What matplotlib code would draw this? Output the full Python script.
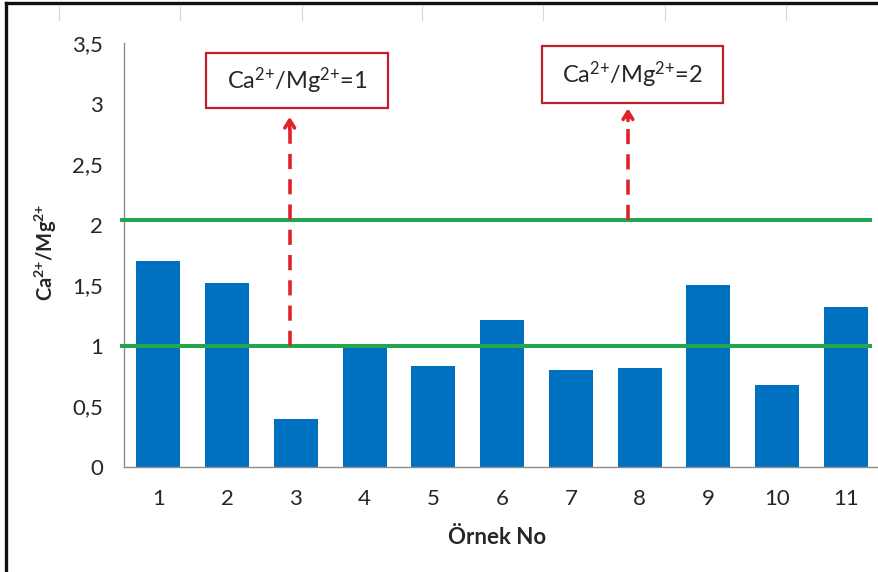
import matplotlib
matplotlib.use("Agg")
import matplotlib.pyplot as plt
from matplotlib.patches import Rectangle
from matplotlib.lines import Line2D

plt.rcParams['font.family'] = ['Lato', 'DejaVu Sans']
plt.rcParams['mathtext.fontset'] = 'custom'
plt.rcParams['mathtext.rm'] = 'Lato'
plt.rcParams['mathtext.it'] = 'Lato:italic'
plt.rcParams['mathtext.bf'] = 'Lato:bold'

# ---- data ----
samples = ["1", "2", "3", "4", "5", "6", "7", "8", "9", "10", "11"]
ratios = [1.70, 1.52, 0.40, 1.00, 0.83, 1.21, 0.80, 0.82, 1.50, 0.68, 1.32]
ref_levels = [1.0, 2.04]
ytick_vals = [0, 0.5, 1, 1.5, 2, 2.5, 3, 3.5]
ytick_labels = ["0", "0,5", "1", "1,5", "2", "2,5", "3", "3,5"]
box_labels = [r"Ca$^{2{+}}$/Mg$^{2{+}}$=1", r"Ca$^{2{+}}$/Mg$^{2{+}}$=2"]

W, H = 879, 572
fig = plt.figure(figsize=(W / 100, H / 100), dpi=100)
ax = fig.add_axes([124 / W, 1 - 467 / H, 756.3 / W, 424 / H])

text_col = '#262626'
blue = '#0070C0'
green = '#23A64E'
red = '#E0232B'
box_red = '#C0202A'

x = list(range(1, len(samples) + 1))
ax.bar(x, ratios, width=0.64, color=blue, zorder=2)

ax.set_xlim(0.5, len(samples) + 0.5)
ax.set_ylim(0, 3.5)
ax.set_yticks(ytick_vals)
ax.set_yticklabels(ytick_labels)
ax.set_xticks(x)
ax.set_xticklabels(samples)
ax.tick_params(axis='both', length=0, labelsize=16, colors=text_col)
ax.tick_params(axis='y', pad=15)
ax.tick_params(axis='x', pad=16)

for s in ['top', 'right']:
    ax.spines[s].set_visible(False)
for s in ['left', 'bottom']:
    ax.spines[s].set_color('#8c8c8c')
    ax.spines[s].set_linewidth(1.0)

# reference lines
for lv in ref_levels:
    ax.plot([0.44, 11.38], [lv, lv], color=green, lw=2.9, clip_on=False, zorder=3,
            solid_capstyle='butt')

# dashed arrows
arrow_specs = [(2.91, ref_levels[0], 2.89), (7.83, ref_levels[1], 2.96)]
for ax_x, y0, ytip in arrow_specs:
    ax.plot([ax_x, ax_x], [y0, ytip - 0.02], color=red, lw=2.6, dashes=(4.2, 2.8),
            zorder=4, clip_on=False)
    ax.annotate('', xy=(ax_x, ytip), xytext=(ax_x, ytip - 0.1),
                arrowprops=dict(arrowstyle='->,head_length=0.55,head_width=0.35',
                                lw=2.6, color=red, shrinkA=0, shrinkB=0),
                annotation_clip=False, zorder=5)

# label boxes
boxes = [((1.693, 2.963), 4.34 - 1.693, 3.418 - 2.963, (3.02, 3.19)),
         ((6.58, 3.005), 9.21 - 6.58, 3.475 - 3.005, (7.89, 3.24))]
for (xy, bw, bh, tc), lab in zip(boxes, box_labels):
    ax.add_patch(Rectangle(xy, bw, bh, facecolor='white', edgecolor=box_red,
                           lw=1.6, clip_on=False, zorder=6))
    ax.text(tc[0], tc[1], lab, ha='center', va='center', fontsize=17,
            color=text_col, zorder=7)

# axis labels
fig.text(46 / W, 1 - 252 / H, r"$\mathbf{Ca^{2{+}}/Mg^{2{+}}}$", rotation=90,
         ha='center', va='center', fontsize=14.5, color=text_col)
fig.text(497 / W, 1 - 537 / H, "Örnek No", ha='center', va='center',
         fontsize=16, fontweight='bold', color=text_col)

# outer frame (image crop border)
fig.add_artist(Line2D([6 / W, 1.0], [1 - 3 / H, 1 - 3 / H], transform=fig.transFigure,
                      color='#111111', lw=2.4))
fig.add_artist(Line2D([6 / W, 6 / W], [0, 1 - 3 / H], transform=fig.transFigure,
                      color='#111111', lw=2.4))
# residual gridline fragments from cropped chart above
for px in [59, 180, 302, 422, 543, 665, 786]:
    fig.add_artist(Line2D([px / W, px / W], [1 - 6 / H, 1 - 20 / H],
                          transform=fig.transFigure, color='#d8d8d8', lw=0.8))

fig.savefig('out.png', dpi=100)
